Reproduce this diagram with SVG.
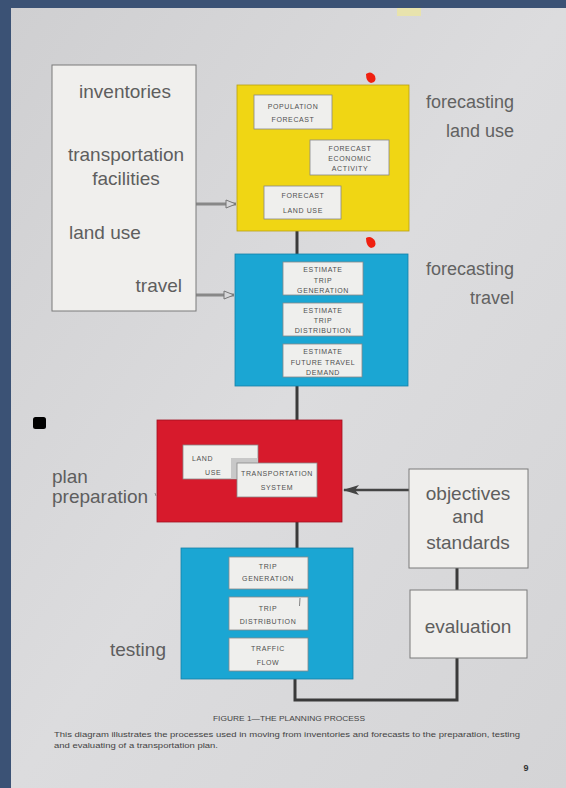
<svg xmlns="http://www.w3.org/2000/svg" width="566" height="788" viewBox="0 0 566 788">
<defs>
<linearGradient id="pg" x1="0" y1="0" x2="1" y2="1">
<stop offset="0" stop-color="#cfcfd1"/>
<stop offset="0.5" stop-color="#dcdcde"/>
<stop offset="1" stop-color="#d4d4d6"/>
</linearGradient>
<marker id="open" viewBox="0 0 12 10" refX="11" refY="5" markerWidth="12" markerHeight="10" markerUnits="userSpaceOnUse" orient="auto">
<path d="M1,1 L11,5 L1,9 Z" fill="#d8d8da" stroke="#777" stroke-width="1"/>
</marker>
<marker id="solid" viewBox="0 0 16 10" refX="15" refY="5" markerWidth="16" markerHeight="10" markerUnits="userSpaceOnUse" orient="auto">
<path d="M0,0 L16,5 L0,10 L4,5 Z" fill="#444"/>
</marker>
</defs>
<style>
.big{font-family:"Liberation Sans","Open Sans",sans-serif;fill:#5e5e5e;font-size:19px}
.side{font-family:"Liberation Sans","Open Sans",sans-serif;fill:#626262;font-size:18px}
.sm{font-family:"Liberation Sans","DejaVu Sans",sans-serif;fill:#505050;font-size:7px;letter-spacing:0.6px;text-anchor:middle}
.lbox{fill:#f0efed;stroke:#7a7a7a;stroke-width:1}
.ibox{fill:#efefed;stroke:#888;stroke-width:0.8}
.conn{stroke:#3a3a3a;stroke-width:3;fill:none}
.cap{font-family:"Liberation Sans","DejaVu Sans",sans-serif;fill:#444;font-size:7.5px}
</style>
<rect width="566" height="788" fill="#3b5275"/>
<rect x="11" y="8" width="555" height="780" fill="url(#pg)"/>
<rect x="397" y="8" width="24" height="8" fill="#e8e3ad"/>
<path d="M366,74 Q371,70 375,76 Q377,82 371,83 Q366,82 366,74 Z" fill="#f02010"/>
<path d="M366,238 Q371,235 375,241 Q377,247 371,248 Q366,246 366,238 Z" fill="#f02010"/>
<rect x="33" y="417" width="13" height="12" rx="2.5" fill="#000"/>

<g id="connectors">
<line class="conn" x1="297" y1="231" x2="297" y2="254"/>
<line class="conn" x1="297" y1="386" x2="297" y2="420"/>
<line class="conn" x1="297" y1="522" x2="297" y2="548"/>
<line class="conn" x1="457" y1="568" x2="457" y2="590"/>
<polyline class="conn" points="457,658 457,700 295,700 295,679"/>
<line x1="196" y1="204" x2="236" y2="204" stroke="#888" stroke-width="3" marker-end="url(#open)"/>
<line x1="196" y1="295" x2="234" y2="295" stroke="#888" stroke-width="3" marker-end="url(#open)"/>
<line x1="409" y1="490" x2="344" y2="490" stroke="#444" stroke-width="2.5" marker-end="url(#solid)"/>
</g>

<g id="inventories">
<rect class="lbox" x="52" y="65" width="144" height="246"/>
<text class="big" x="125" y="98" text-anchor="middle">inventories</text>
<text class="big" x="126" y="161" text-anchor="middle">transportation</text>
<text class="big" x="126" y="185" text-anchor="middle">facilities</text>
<text class="big" x="69" y="239">land use</text>
<text class="big" x="182" y="292" text-anchor="end">travel</text>
</g>

<g id="forecasting-land-use">
<rect x="237" y="85" width="172" height="146" fill="#f0d614" stroke="#b8a010" stroke-width="0.8"/>
<rect class="ibox" x="254" y="95" width="78" height="34"/>
<text class="sm" x="293" y="109">POPULATION</text>
<text class="sm" x="293" y="122">FORECAST</text>
<rect class="ibox" x="310" y="140" width="79" height="35"/>
<text class="sm" x="350" y="151">FORECAST</text>
<text class="sm" x="350" y="161">ECONOMIC</text>
<text class="sm" x="350" y="171">ACTIVITY</text>
<rect class="ibox" x="264" y="186" width="77" height="33"/>
<text class="sm" x="303" y="198">FORECAST</text>
<text class="sm" x="303" y="213">LAND  USE</text>
<text class="side" x="514" y="108" text-anchor="end">forecasting</text>
<text class="side" x="514" y="137" text-anchor="end">land use</text>
</g>

<g id="forecasting-travel">
<rect x="235" y="254" width="173" height="132" fill="#1ba6d3" stroke="#1580a8" stroke-width="0.8"/>
<rect class="ibox" x="283" y="262" width="80" height="33"/>
<text class="sm" x="323" y="272">ESTIMATE</text>
<text class="sm" x="323" y="283">TRIP</text>
<text class="sm" x="323" y="293">GENERATION</text>
<rect class="ibox" x="283" y="303" width="80" height="33"/>
<text class="sm" x="323" y="313">ESTIMATE</text>
<text class="sm" x="323" y="323">TRIP</text>
<text class="sm" x="323" y="333">DISTRIBUTION</text>
<rect class="ibox" x="283" y="344" width="79" height="33"/>
<text class="sm" x="323" y="354">ESTIMATE</text>
<text class="sm" x="323" y="365">FUTURE  TRAVEL</text>
<text class="sm" x="323" y="375">DEMAND</text>
<text class="side" x="514" y="275" text-anchor="end">forecasting</text>
<text class="side" x="514" y="304" text-anchor="end">travel</text>
</g>

<g id="plan-preparation">
<rect x="157" y="420" width="185" height="102" fill="#d71a2c" stroke="#a01020" stroke-width="0.8"/>
<rect class="ibox" x="183" y="445" width="75" height="34"/>
<rect x="231" y="458" width="27" height="21" fill="#c8c8c8"/>
<text class="sm" x="192" y="461" style="text-anchor:start">LAND</text>
<text class="sm" x="205" y="475" style="text-anchor:start">USE</text>
<rect class="ibox" x="237" y="463" width="80" height="34"/>
<text class="sm" x="277" y="476">TRANSPORTATION</text>
<text class="sm" x="277" y="490">SYSTEM</text>
<text class="big" x="52" y="483">plan</text>
<text class="big" x="52" y="503">preparation</text>
<line x1="155" y1="493" x2="156" y2="496" stroke="#777" stroke-width="0.8"/>
</g>

<g id="testing">
<rect x="181" y="548" width="172" height="131" fill="#1ba6d3" stroke="#1580a8" stroke-width="0.8"/>
<rect class="ibox" x="229" y="557" width="79" height="32"/>
<text class="sm" x="268" y="569">TRIP</text>
<text class="sm" x="268" y="581">GENERATION</text>
<rect class="ibox" x="229" y="597" width="79" height="33"/>
<text class="sm" x="268" y="611">TRIP</text>
<text class="sm" x="268" y="624">DISTRIBUTION</text>
<line x1="300" y1="598" x2="299.5" y2="606" stroke="#666" stroke-width="0.8"/>
<rect class="ibox" x="229" y="638" width="79" height="33"/>
<text class="sm" x="268" y="651">TRAFFIC</text>
<text class="sm" x="268" y="665">FLOW</text>
<text class="big" x="110" y="656">testing</text>
</g>

<g id="objectives">
<rect class="lbox" x="409" y="469" width="119" height="99"/>
<text class="big" x="468" y="500" text-anchor="middle">objectives</text>
<text class="big" x="468" y="523" text-anchor="middle">and</text>
<text class="big" x="468" y="549" text-anchor="middle">standards</text>
</g>

<g id="evaluation">
<rect class="lbox" x="410" y="590" width="117" height="68"/>
<text class="big" x="468" y="633" text-anchor="middle">evaluation</text>
</g>

<g id="caption">
<text class="cap" x="289" y="721" text-anchor="middle" textLength="152" lengthAdjust="spacingAndGlyphs">FIGURE 1—THE PLANNING PROCESS</text>
<text class="cap" x="54" y="737" textLength="466" lengthAdjust="spacingAndGlyphs">This diagram illustrates the processes used in moving from inventories and forecasts to the preparation, testing</text>
<text class="cap" x="54" y="748" textLength="164" lengthAdjust="spacingAndGlyphs">and evaluating of a transportation plan.</text>
<text x="526" y="771" font-family="Liberation Sans, sans-serif" font-weight="bold" font-size="9" fill="#333" text-anchor="middle">9</text>
</g>
</svg>
